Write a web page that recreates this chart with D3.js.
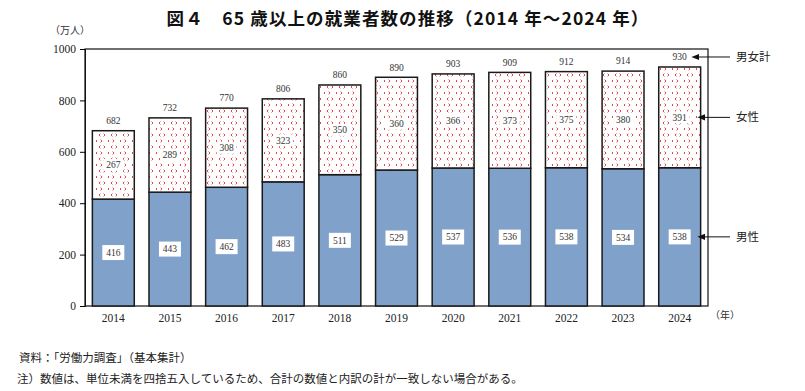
<!DOCTYPE html>
<html>
<head>
<meta charset="utf-8">
<script src="https://cdn.jsdelivr.net/npm/d3@7/dist/d3.min.js"></script>
<style>
  body { margin: 0; background: #fff; }
  svg { display: block; }
</style>
</head>
<body>
<svg id="chart"></svg>
<script>
// data
const years  = ['2014', '2015', '2016', '2017', '2018', '2019', '2020', '2021', '2022', '2023', '2024'];
const male   = [416, 443, 462, 483, 511, 529, 537, 536, 538, 534, 538];
const female = [267, 289, 308, 323, 350, 360, 366, 373, 375, 380, 391];
const total  = [682, 732, 770, 806, 860, 890, 903, 909, 912, 914, 930];
const yTicks = [0, 200, 400, 600, 800, 1000];

const W = 805, H = 391;
const margin = {top: 49, right: 97, bottom: 85, left: 85};
const width = W - margin.left - margin.right;
const height = H - margin.top - margin.bottom;

const jp = '"Noto Sans CJK JP", "Noto Sans", sans-serif';
const serif = '"Liberation Serif", "DejaVu Serif", serif';

const svg = d3.select('#chart').attr('width', W).attr('height', H);

/******** pattern for the women segment ********/
const defs = svg.append('defs');
const pat = defs.append('pattern')
  .attr('id', 'dots')
  .attr('patternUnits', 'userSpaceOnUse')
  .attr('width', 12).attr('height', 12);
pat.append('rect').attr('width', 12).attr('height', 12).attr('fill', '#fff');
const chev = [
  {x: 2, y: 2, d: 1}, {x: 8, y: 2, d: -1},
  {x: 5, y: 8, d: -1}, {x: 11, y: 8, d: 1}
];
chev.forEach(c => {
  pat.append('path')
    .attr('d', `M${c.x + 1.4 * c.d},${c.y - 1.4} L${c.x},${c.y} L${c.x + 1.4 * c.d},${c.y + 1.4}`)
    .attr('fill', 'none')
    .attr('stroke', '#e4484d')
    .attr('stroke-width', 1);
});

const chart = svg.append('g').attr('transform', `translate(${margin.left},${margin.top})`);

/******** scales ********/
const x = d3.scaleBand().domain(years).range([0, width]).paddingInner(0.26).paddingOuter(0.13);
const y = d3.scaleLinear().domain([0, 1000]).range([height, 0]);

/******** plot frame ********/
chart.append('rect')
  .attr('x', 0).attr('y', 0).attr('width', width).attr('height', height)
  .attr('fill', 'none').attr('stroke', '#111').attr('stroke-width', 1.2);

/******** axes ********/
const yAxis = chart.append('g')
  .call(d3.axisLeft(y).tickValues(yTicks).tickFormat(d3.format('d')).tickSize(5).tickPadding(4));
yAxis.select('.domain').attr('stroke', '#111');
yAxis.selectAll('text').style('font-family', serif).style('font-size', '11.5px').attr('fill', '#222');

const xAxis = chart.append('g')
  .attr('transform', `translate(0,${height})`)
  .call(d3.axisBottom(x).tickSize(0).tickPadding(8));
xAxis.select('.domain').remove();
xAxis.selectAll('text').style('font-family', serif).style('font-size', '11.5px').attr('fill', '#222');

/******** bars ********/
const rows = years.map((yr, i) => ({yr, m: male[i], f: female[i], t: total[i]}));
const bars = chart.selectAll('.bar').data(rows).enter().append('g');

bars.append('rect')
  .attr('x', d => x(d.yr)).attr('width', x.bandwidth())
  .attr('y', d => y(d.m)).attr('height', d => y(0) - y(d.m))
  .attr('fill', '#80a1ca').attr('stroke', '#1a1a1a').attr('stroke-width', 1.5);

bars.append('rect')
  .attr('x', d => x(d.yr)).attr('width', x.bandwidth())
  .attr('y', d => y(d.t)).attr('height', d => y(d.m) - y(d.t))
  .attr('fill', 'url(#dots)').attr('stroke', '#1a1a1a').attr('stroke-width', 1.5);

/******** value labels ********/
function boxLabel(sel, val, cy, bw, bh) {
  sel.append('rect')
    .attr('x', d => x(d.yr) + x.bandwidth() / 2 - bw / 2)
    .attr('y', d => cy(d) - bh / 2)
    .attr('width', bw).attr('height', bh)
    .attr('fill', '#fff');
  sel.append('text')
    .attr('x', d => x(d.yr) + x.bandwidth() / 2)
    .attr('y', d => cy(d))
    .attr('dy', '0.35em')
    .attr('text-anchor', 'middle')
    .style('font-family', serif).style('font-size', '9.5px')
    .attr('fill', '#333')
    .text(val);
}
boxLabel(bars, d => d.m, d => y(d.m / 2), 22, 15);
boxLabel(bars, d => d.f, d => (y(d.m) + y(d.t)) / 2, 20, 12);

bars.append('text')
  .attr('x', d => x(d.yr) + x.bandwidth() / 2)
  .attr('y', d => y(d.t) - 10)
  .attr('dy', '0.35em')
  .attr('text-anchor', 'middle')
  .style('font-family', serif).style('font-size', '9.5px')
  .attr('fill', '#333')
  .text(d => d.t);

/******** right side arrows ********/
defs.append('marker')
  .attr('id', 'arr').attr('viewBox', '0 0 10 10')
  .attr('refX', 1).attr('refY', 5)
  .attr('markerWidth', 8).attr('markerHeight', 8)
  .attr('orient', 'auto-start-reverse')
  .append('path').attr('d', 'M0,1 L10,5 L0,9 Z').attr('fill', '#111');

const last = rows[rows.length - 1];
const lastX = x(last.yr) + x.bandwidth();
const notes = [
  {txt: '男女計', yy: y(last.t) - 10, x0: lastX - 5},
  {txt: '女性', yy: (y(last.m) + y(last.t)) / 2, x0: lastX + 1},
  {txt: '男性', yy: y(last.m / 2), x0: lastX + 1}
];
notes.forEach(n => {
  chart.append('line')
    .attr('x1', n.x0 + 3).attr('x2', width + 22)
    .attr('y1', n.yy).attr('y2', n.yy)
    .attr('stroke', '#111').attr('stroke-width', 1)
    .attr('marker-start', 'url(#arr)');
  chart.append('text')
    .attr('x', width + 28).attr('y', n.yy)
    .attr('dy', '0.35em')
    .style('font-family', jp).style('font-size', '11.5px')
    .attr('fill', '#222')
    .text(n.txt);
});

/******** titles and notes ********/
svg.append('text')
  .attr('x', 408).attr('y', 25)
  .attr('text-anchor', 'middle')
  .style('font-family', jp).style('font-size', '17.5px').style('font-weight', 'bold')
  .style('letter-spacing', '1.1px')
  .attr('fill', '#111')
  .text('図４　65 歳以上の就業者数の推移（2014 年～2024 年）');

svg.append('text')
  .attr('x', 50).attr('y', 34)
  .style('font-family', jp).style('font-size', '10px')
  .attr('fill', '#333')
  .text('（万人）');

svg.append('text')
  .attr('x', margin.left + width + 2).attr('y', 319)
  .style('font-family', jp).style('font-size', '10px')
  .attr('fill', '#333')
  .text('（年）');

svg.append('text')
  .attr('x', 19).attr('y', 362)
  .style('font-family', jp).style('font-size', '11.5px')
  .attr('fill', '#222')
  .text('資料：「労働力調査」（基本集計）');

svg.append('text')
  .attr('x', 17).attr('y', 383)
  .style('font-family', jp).style('font-size', '11.5px')
  .attr('fill', '#222')
  .text('注）数値は、単位未満を四捨五入しているため、合計の数値と内訳の計が一致しない場合がある。');
</script>
</body>
</html>
